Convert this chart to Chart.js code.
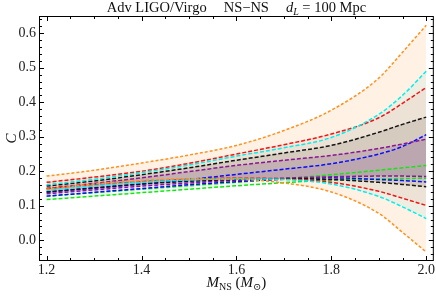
<!DOCTYPE html>
<html>
<head>
<meta charset="utf-8">
<script src="https://cdn.jsdelivr.net/npm/chart.js@4/dist/chart.umd.min.js"></script>
<style>
  body { margin: 0; background: #fff; }
  canvas { display: block; }
</style>
</head>
<body>
<canvas id="myChart" width="436" height="298"></canvas>
<script>
// neutron star mass grid (solar masses)
const mass = [1.2, 1.3, 1.4, 1.5, 1.6, 1.7, 1.8, 1.9, 1.95, 2.0];

// upper edges of the compactness bands
const orangeUp = [0.186, 0.203, 0.224, 0.247, 0.275, 0.318, 0.377, 0.470, 0.545, 0.623];
const cyanUp   = [0.161, 0.177, 0.196, 0.218, 0.244, 0.268, 0.298, 0.365, 0.420, 0.490];
const redUp    = [0.168, 0.183, 0.200, 0.223, 0.250, 0.277, 0.308, 0.355, 0.397, 0.443];
const blackUp  = [0.157, 0.172, 0.190, 0.210, 0.232, 0.253, 0.275, 0.313, 0.336, 0.357];
const purpleUp = [0.150, 0.165, 0.181, 0.199, 0.217, 0.232, 0.246, 0.266, 0.279, 0.293];
const blueUp   = [0.140, 0.151, 0.163, 0.176, 0.191, 0.206, 0.222, 0.250, 0.272, 0.306];
const greenUp  = [0.128, 0.138, 0.148, 0.158, 0.168, 0.179, 0.190, 0.203, 0.210, 0.217];

// lower edges
const orangeLo = [0.148, 0.163, 0.173, 0.178, 0.177, 0.166, 0.140, 0.078, 0.023, -0.034];
const cyanLo   = [0.145, 0.158, 0.168, 0.175, 0.178, 0.176, 0.163, 0.127, 0.097, 0.063];
const redLo    = [0.150, 0.161, 0.170, 0.177, 0.180, 0.178, 0.168, 0.142, 0.122, 0.101];
const blackLo  = [0.140, 0.152, 0.163, 0.171, 0.176, 0.178, 0.176, 0.168, 0.162, 0.155];
const purpleLo = [0.135, 0.146, 0.157, 0.166, 0.174, 0.180, 0.184, 0.186, 0.186, 0.185];
const blueLo   = [0.128, 0.139, 0.150, 0.161, 0.170, 0.177, 0.181, 0.176, 0.173, 0.169];
const greenLo  = [0.118, 0.128, 0.138, 0.148, 0.158, 0.167, 0.175, 0.178, 0.179, 0.180];

const xTicks = [1.2, 1.4, 1.6, 1.8, 2.0];
const yTicks = [0.0, 0.1, 0.2, 0.3, 0.4, 0.5, 0.6];

const SERIF = "'Liberation Serif', 'DejaVu Serif', serif";

const toPts = arr => arr.map((v, i) => ({ x: mass[i], y: v }));

// [upper, lower, line colour, fill colour, dash]
const bands = [
  [orangeUp, orangeLo, 'rgb(255,145,30)', 'rgba(255,140,30,0.12)', [3, 2]],
  [cyanUp,   cyanLo,   'rgb(0,240,240)',  'rgba(0,230,230,0.08)',  [4, 2]],
  [redUp,    redLo,    'rgb(240,20,20)',  'rgba(220,30,30,0.07)',  [4, 2]],
  [blackUp,  blackLo,  'rgb(20,20,20)',   'rgba(0,0,0,0.12)',      [4, 2]],
  [purpleUp, purpleLo, 'rgb(140,20,150)', 'rgba(120,40,150,0.18)', [4, 2]],
  [blueUp,   blueLo,   'rgb(10,10,255)',  'rgba(40,40,230,0.08)',  [4, 2]],
  [greenUp,  greenLo,  'rgb(20,230,20)',  'rgba(20,230,20,0.05)',  [4, 2]]
];

const datasets = [];
bands.forEach(b => {
  const idx = datasets.length;
  datasets.push({
    data: toPts(b[0]),
    borderColor: b[2],
    backgroundColor: b[3],
    borderDash: b[4],
    borderWidth: 1.5,
    fill: { target: idx + 1 },
  });
  datasets.push({
    data: toPts(b[1]),
    borderColor: b[2],
    backgroundColor: b[3],
    borderDash: b[4],
    borderWidth: 1.5,
    fill: false,
  });
});

// frame, inward ticks and the mixed-font labels
const framePlugin = {
  id: 'frame',
  afterDraw(chart) {
    const ctx = chart.ctx;
    const a = chart.chartArea;
    const xs = chart.scales.x, ys = chart.scales.y;
    ctx.save();
    ctx.strokeStyle = '#000';
    ctx.lineWidth = 1;
    ctx.strokeRect(a.left + 0.5, a.top + 0.5, a.right - a.left - 1, a.bottom - a.top - 1);

    ctx.beginPath();
    for (let v = 1.2; v <= 2.0001; v += 0.05) {
      const px = Math.round(xs.getPixelForValue(v)) + 0.5;
      const major = Math.abs(v * 5 - Math.round(v * 5)) < 1e-6;
      const len = major ? 5 : 3;
      ctx.moveTo(px, a.bottom); ctx.lineTo(px, a.bottom - len);
      ctx.moveTo(px, a.top); ctx.lineTo(px, a.top + len);
    }
    for (let v = -0.04; v <= 0.6401; v += 0.02) {
      const py = Math.round(ys.getPixelForValue(v)) + 0.5;
      const major = Math.abs(v * 10 - Math.round(v * 10)) < 1e-6;
      const len = major ? 5 : 3;
      ctx.moveTo(a.left, py); ctx.lineTo(a.left + len, py);
      ctx.moveTo(a.right, py); ctx.lineTo(a.right - len, py);
    }
    ctx.stroke();

    ctx.fillStyle = '#111';
    const drawRich = (parts, cx, baseline) => {
      let total = 0;
      parts.forEach(p => {
        if (p.gap) { total += p.gap; return; }
        ctx.font = p.font;
        p.w = ctx.measureText(p.t).width;
        total += p.w;
      });
      let x = cx - total / 2;
      ctx.textAlign = 'left';
      ctx.textBaseline = 'alphabetic';
      parts.forEach(p => {
        if (p.gap) { x += p.gap; return; }
        ctx.font = p.font;
        ctx.fillText(p.t, x, baseline + (p.dy || 0));
        x += p.w;
      });
    };
    const cx = (a.left + a.right) / 2;
    const reg = '14.5px ' + SERIF, it = 'italic 14.5px ' + SERIF;
    const sub = '10px ' + SERIF, subIt = 'italic 10px ' + SERIF;
    const lab = '15px ' + SERIF, labIt = 'italic 15px ' + SERIF;

    drawRich([
      { t: 'Adv LIGO/Virgo', font: reg },
      { gap: 17 },
      { t: 'NS\u2212NS', font: reg },
      { gap: 17 },
      { t: 'd', font: it },
      { t: 'L', font: subIt, dy: 3 },
      { t: ' = 100 Mpc', font: reg }
    ], cx, 12);

    drawRich([
      { t: 'M', font: labIt },
      { t: 'NS', font: sub, dy: 3 },
      { t: ' (', font: lab },
      { t: 'M', font: labIt },
      { t: '\u2299', font: sub, dy: 3 },
      { t: ')', font: lab }
    ], cx, 287);

    ctx.translate(16, (a.top + a.bottom) / 2);
    ctx.rotate(-Math.PI / 2);
    ctx.font = labIt;
    ctx.textAlign = 'center';
    ctx.fillText('C', 0, 0);
    ctx.restore();
  }
};

new Chart(document.getElementById('myChart'), {
  type: 'line',
  data: { datasets },
  options: {
    responsive: false,
    devicePixelRatio: 1,
    animation: false,
    layout: { padding: { top: 16, right: 1, left: 0, bottom: 0 } },
    elements: { point: { radius: 0 }, line: { cubicInterpolationMode: 'monotone' } },
    plugins: {
      legend: { display: false },
      tooltip: { enabled: false },
      filler: { drawTime: 'beforeDatasetsDraw' }
    },
    scales: {
      x: {
        type: 'linear',
        min: 1.184,
        max: 2.016,
        afterBuildTicks: s => { s.ticks = xTicks.map(v => ({ value: v })); },
        afterFit: s => { s.height = 37; },
        grid: { display: false, drawTicks: false },
        border: { display: false },
        ticks: {
          callback: v => v.toFixed(1),
          font: { family: SERIF, size: 14 },
          color: '#222',
          padding: 1,
          maxRotation: 0
        }
      },
      y: {
        type: 'linear',
        min: -0.06,
        max: 0.65,
        afterBuildTicks: s => { s.ticks = yTicks.map(v => ({ value: v })); },
        afterFit: s => { s.width = 39; },
        grid: { display: false, drawTicks: false },
        border: { display: false },
        ticks: {
          callback: v => v.toFixed(1),
          font: { family: SERIF, size: 14 },
          color: '#222',
          padding: 3
        }
      }
    }
  },
  plugins: [framePlugin]
});
</script>
</body>
</html>
